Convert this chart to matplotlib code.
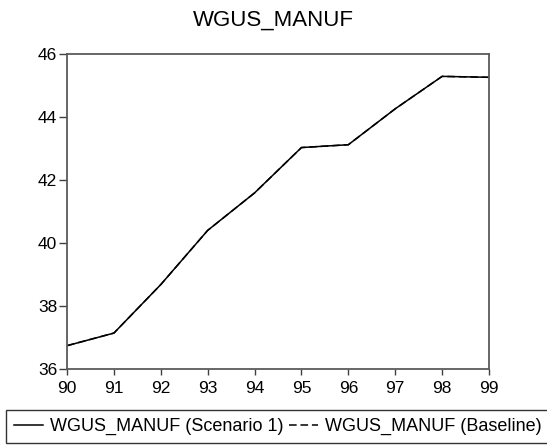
import matplotlib
matplotlib.use("Agg")
import matplotlib.pyplot as plt

plt.rcParams['font.family'] = ['Liberation Sans', 'DejaVu Sans']

years = [90, 91, 92, 93, 94, 95, 96, 97, 98, 99]
scenario1 = [36.74, 37.14, 38.68, 40.40, 41.59, 43.03, 43.12, 44.26, 45.29, 45.26]
baseline = [36.74, 37.14, 38.68, 40.40, 41.59, 43.03, 43.12, 44.26, 45.29, 45.26]
yticks = [36, 38, 40, 42, 44, 46]
title = "WGUS_MANUF"
labels = ["WGUS_MANUF (Scenario 1)", "WGUS_MANUF (Baseline)"]

W, H = 547, 445
fig = plt.figure(figsize=(W / 100, H / 100), dpi=100)
ax = fig.add_axes([67 / W, 1 - 369 / H, (489 - 67) / W, (369 - 54) / H])

l1, = ax.plot(years, scenario1, color='black', lw=1.1, solid_joinstyle='miter')
l2, = ax.plot(years, baseline, color='black', lw=1.1, dashes=(5, 2.5))

ax.set_xlim(90, 99)
ax.set_ylim(36, 46)
ax.set_xticks(years)
ax.set_xticklabels([str(y) for y in years])
ax.set_yticks(yticks)
ax.tick_params(direction='out', width=1, colors='#404040',
               labelcolor='black', labelsize=12.5)
ax.tick_params(axis='x', length=4.3, pad=4)
ax.tick_params(axis='y', length=5.5, pad=1.5)
for s in ax.spines.values():
    s.set_color('#5a5a5a')
    s.set_linewidth(1.3)

fig.text(0.5, 1 - 20 / H, title, ha='center', va='center', fontsize=16)

leg = fig.legend([l1, l2], labels, loc='upper left',
                 bbox_to_anchor=(6 / W, 1 - 410 / H), ncol=2,
                 fontsize=13, frameon=True, fancybox=False,
                 edgecolor='black', handlelength=1.6, handletextpad=0.4,
                 columnspacing=0.3, borderpad=0.45, borderaxespad=0)
leg.get_frame().set_linewidth(1.0)

fig.savefig("out.png", dpi=100)
